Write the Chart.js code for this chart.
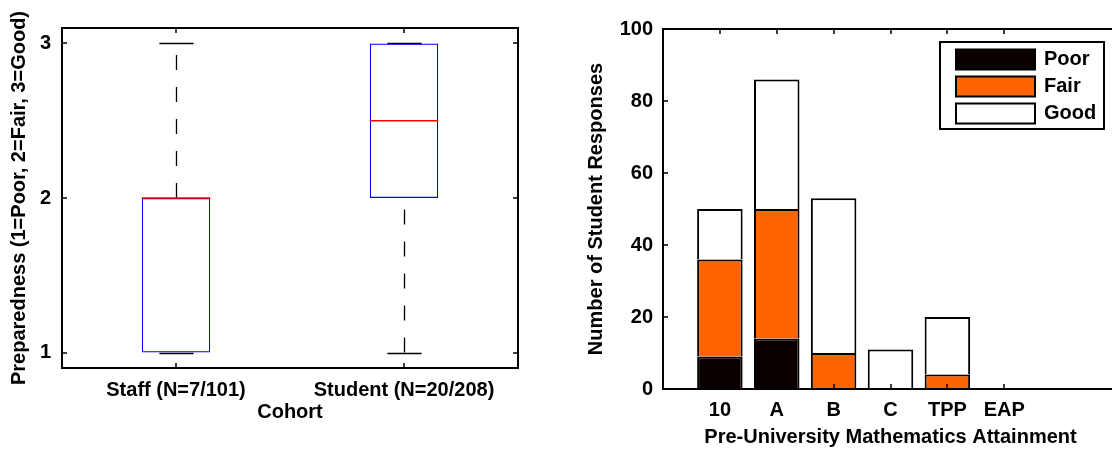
<!DOCTYPE html>
<html>
<head>
<meta charset="utf-8">
<script src="https://cdn.jsdelivr.net/npm/chart.js@4.4.1/dist/chart.umd.min.js"></script>
<style>
  html, body { margin: 0; padding: 0; background: #fff; overflow: hidden; width: 1112px; height: 452px; }
  canvas { position: absolute; top: 0; }
  #prepChart { left: 0; }
  #attainChart { left: 556px; }
</style>
</head>
<body>
<canvas id="prepChart" width="556" height="452"></canvas>
<canvas id="attainChart" width="584" height="452"></canvas>
<script>
// Left panel: preparedness box plot
const cohorts = ['Staff (N=7/101)', 'Student (N=20/208)'];
const lowerWhisker = [1, 1];
const q1 = [1, 2];
const median = [2, 2.5];
const q3 = [2, 3];
const upperWhisker = [3, 3];
const prepTicks = [1, 2, 3];

// Right panel: responses by pre-university maths
const attainment = ['10', 'A', 'B', 'C', 'TPP', 'EAP'];
const poor = [9, 14, 0, 0, 0, 0];
const fair = [27, 36, 10, 0, 4, 0];
const good = [14, 36, 43, 11, 16, 0];
const responseTicks = [0, 20, 40, 60, 80, 100];

const FONT = '"Liberation Sans", Arial, Helvetica, sans-serif';
Chart.defaults.font = { family: FONT, size: 20, weight: 'bold' };
Chart.defaults.color = '#000';
Chart.defaults.animation = false;

// box outline with inward ticks, matlab style
const framePlugin = {
  id: 'frame',
  afterDraw(chart) {
    const { ctx, chartArea: a, scales: { x, y } } = chart;
    const len = 5;
    ctx.save();
    ctx.strokeStyle = '#000';
    ctx.lineWidth = 1.5;
    ctx.beginPath();
    x.ticks.forEach((t, i) => {
      const px = Math.round(x.getPixelForTick(i));
      ctx.moveTo(px, a.bottom); ctx.lineTo(px, a.bottom - len);
      ctx.moveTo(px, a.top); ctx.lineTo(px, a.top + len);
    });
    y.ticks.forEach((t, i) => {
      const py = Math.round(y.getPixelForTick(i));
      ctx.moveTo(a.left, py); ctx.lineTo(a.left + len, py);
      ctx.moveTo(a.right, py); ctx.lineTo(a.right - len, py);
    });
    ctx.stroke();
    ctx.lineWidth = 2;
    ctx.strokeRect(a.left, a.top, a.right - a.left, a.bottom - a.top);
    ctx.restore();
  }
};

// whiskers + caps under the boxes, medians on top
const boxPlugin = {
  id: 'boxParts',
  beforeDatasetsDraw(chart) {
    const { ctx, scales: { x, y } } = chart;
    const unit = x.getPixelForValue(1) - x.getPixelForValue(0);
    ctx.save();
    ctx.strokeStyle = '#000';
    ctx.lineWidth = 1.3;
    cohorts.forEach((c, i) => {
      const cx = Math.round(x.getPixelForValue(i)) + 0.5;
      const seg = (lo, hi) => {
        const y0 = y.getPixelForValue(lo), y1 = y.getPixelForValue(hi);
        if (Math.abs(y0 - y1) < 0.5) return;
        ctx.beginPath(); ctx.moveTo(cx, y0); ctx.lineTo(cx, y1); ctx.stroke();
      };
      ctx.setLineDash([15, 17]);
      seg(q3[i], upperWhisker[i]);
      seg(lowerWhisker[i], q1[i]);
      ctx.setLineDash([]);
      [upperWhisker[i], lowerWhisker[i]].forEach(v => {
        const py = Math.round(y.getPixelForValue(v)) + 0.5;
        ctx.beginPath();
        ctx.moveTo(cx - 0.075 * unit, py); ctx.lineTo(cx + 0.075 * unit, py);
        ctx.stroke();
      });
    });
    ctx.restore();
  },
  afterDatasetsDraw(chart) {
    const { ctx, scales: { x, y } } = chart;
    const unit = x.getPixelForValue(1) - x.getPixelForValue(0);
    ctx.save();
    ctx.strokeStyle = '#ff0000';
    ctx.lineWidth = 1.5;
    cohorts.forEach((c, i) => {
      const cx = x.getPixelForValue(i);
      const py = y.getPixelForValue(median[i]);
      ctx.beginPath();
      ctx.moveTo(cx - 0.15 * unit, py); ctx.lineTo(cx + 0.15 * unit, py);
      ctx.stroke();
    });
    ctx.restore();
  }
};

new Chart(document.getElementById('prepChart'), {
  type: 'bar',
  data: {
    labels: cohorts,
    datasets: [{
      label: 'Interquartile range',
      data: cohorts.map((c, i) => [q1[i], q3[i]]),
      backgroundColor: 'rgba(0,0,0,0)',
      borderColor: '#0000ff',
      borderWidth: 1.2,
      borderSkipped: false,
      barPercentage: 0.3,
      categoryPercentage: 1
    }]
  },
  options: {
    responsive: false,
    devicePixelRatio: 1,
    layout: { padding: { left: 0, top: 28, right: 38, bottom: 0 } },
    plugins: { legend: { display: false }, tooltip: { enabled: false } },
    scales: {
      x: {
        offset: true,
        grid: { display: false, drawTicks: false },
        border: { display: false },
        ticks: { padding: 10 },
        title: { display: true, text: 'Cohort', padding: { top: 0, bottom: 28 } },
        afterFit: s => { s.height = 84; }
      },
      y: {
        min: 0.9, max: 3.1,
        grid: { display: false, drawTicks: false },
        border: { display: false },
        ticks: { padding: 11 },
        afterBuildTicks: s => { s.ticks = prepTicks.map(v => ({ value: v })); },
        title: { display: true, text: 'Preparedness (1=Poor, 2=Fair, 3=Good)', padding: { top: 7, bottom: 0 } },
        afterFit: s => { s.width = 62; }
      }
    }
  },
  plugins: [boxPlugin, framePlugin]
});

const legendPlugin = {
  id: 'legendBox',
  afterDraw(chart) {
    const { ctx, chartArea: a } = chart;
    const w = 164, h = 87;
    const left = a.right - 14 - w, top = a.top + 13;
    ctx.save();
    ctx.fillStyle = '#fff';
    ctx.fillRect(left, top, w, h);
    ctx.lineWidth = 2;
    ctx.strokeStyle = '#000';
    ctx.strokeRect(left, top, w, h);
    ctx.font = 'bold 20px ' + FONT;
    ctx.textBaseline = 'middle';
    chart.data.datasets.forEach((ds, i) => {
      const cy = top + 17.5 + i * 27;
      ctx.fillStyle = ds.backgroundColor;
      ctx.fillRect(left + 16, cy - 10, 79, 20);
      ctx.strokeRect(left + 16, cy - 10, 79, 20);
      ctx.fillStyle = '#000';
      ctx.fillText(ds.label, left + 104, cy);
    });
    ctx.restore();
  }
};

const barStyle = {
  borderColor: '#000',
  borderWidth: { top: 2, left: 2, right: 2, bottom: 0 },
  borderSkipped: false,
  barPercentage: 0.8,
  categoryPercentage: 1
};

new Chart(document.getElementById('attainChart'), {
  type: 'bar',
  data: {
    datasets: [
      { label: 'Poor', data: attainment.map((c, i) => ({ x: i + 1, y: poor[i] })), backgroundColor: '#0a0000', ...barStyle },
      { label: 'Fair', data: attainment.map((c, i) => ({ x: i + 1, y: fair[i] })), backgroundColor: '#ff6400', ...barStyle },
      { label: 'Good', data: attainment.map((c, i) => ({ x: i + 1, y: good[i] })), backgroundColor: '#ffffff', ...barStyle }
    ]
  },
  options: {
    responsive: false,
    devicePixelRatio: 1,
    layout: { padding: { left: 0, top: 29, right: 22, bottom: 0 } },
    plugins: { legend: { display: false }, tooltip: { enabled: false } },
    scales: {
      x: {
        type: 'linear',
        min: 0, max: 8,
        offset: false,
        stacked: true,
        grid: { display: false, drawTicks: false },
        border: { display: false },
        afterBuildTicks: s => { s.ticks = attainment.map((c, i) => ({ value: i + 1 })); },
        ticks: { padding: 9, autoSkip: false, maxRotation: 0, callback: v => attainment[v - 1] },
        title: { display: true, text: 'Pre-University Mathematics Attainment', padding: { top: 0, bottom: 3 } },
        afterFit: s => { s.height = 63; }
      },
      y: {
        min: 0, max: 100,
        stacked: true,
        grid: { display: false, drawTicks: false },
        border: { display: false },
        afterBuildTicks: s => { s.ticks = responseTicks.map(v => ({ value: v })); },
        ticks: { padding: 10 },
        title: { display: true, text: 'Number of Student Responses', padding: { top: 28, bottom: 0 } },
        afterFit: s => { s.width = 107; }
      }
    }
  },
  plugins: [framePlugin, legendPlugin]
});
</script>
</body>
</html>
